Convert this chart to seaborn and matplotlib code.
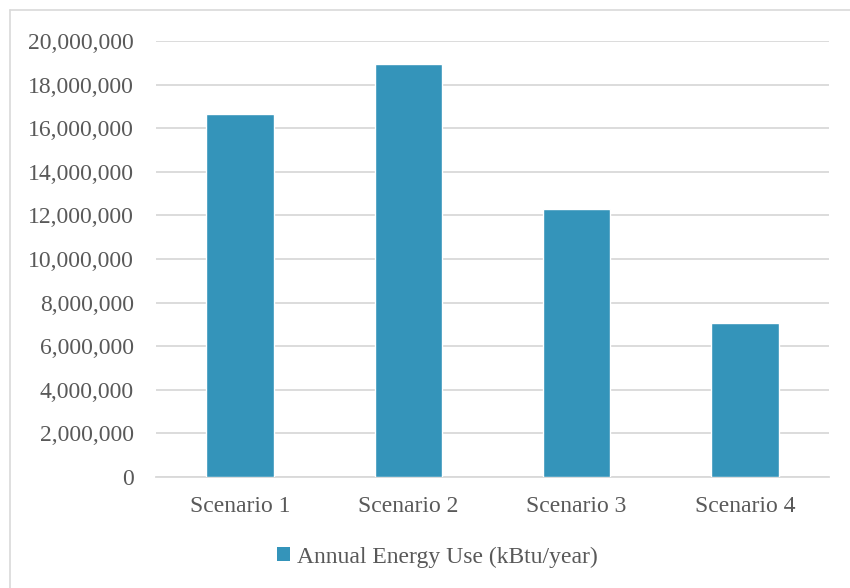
import matplotlib
matplotlib.use("Agg")
import matplotlib.pyplot as plt
import seaborn as sns
import pandas as pd
from matplotlib.ticker import FuncFormatter
from matplotlib.lines import Line2D
from matplotlib.patches import Patch

scenarios = ["Scenario 1", "Scenario 2", "Scenario 3", "Scenario 4"]
energy_use = [16650000, 18950000, 12290000, 7060000]
series_name = "Annual Energy Use (kBtu/year)"

df = pd.DataFrame({"Scenario": scenarios, "Energy": energy_use})

sns.set_theme(style="white")
plt.rcParams["font.family"] = ["Liberation Serif", "DejaVu Serif"]

bar_color = "#3494BA"
text_color = "#595959"
grid_color = "#D9D9D9"

fig = plt.figure(figsize=(8.5, 5.88), dpi=100)
ax = fig.add_axes([156 / 850, 1 - 477 / 588, (829 - 156) / 850, (477 - 41) / 588])

sns.barplot(data=df, x="Scenario", y="Energy", color=bar_color, width=0.4,
            saturation=1, ax=ax, zorder=3)

ax.set_xlim(-0.5, len(scenarios) - 0.5)
ax.set_ylim(0, 20000000)
ax.set_yticks(range(0, 20000001, 2000000))
ax.yaxis.set_major_formatter(FuncFormatter(lambda v, p: f"{int(v):,}"))
ax.grid(axis="y", color=grid_color, linewidth=1.3, zorder=0)
ax.set_axisbelow(True)
for s in ["top", "right", "left"]:
    ax.spines[s].set_visible(False)
ax.spines["bottom"].set_color(grid_color)
ax.spines["bottom"].set_linewidth(1.3)
ax.set_xlabel("")
ax.set_ylabel("")
ax.tick_params(axis="both", length=0, colors=text_color, labelsize=17)
ax.tick_params(axis="y", pad=16)
ax.tick_params(axis="x", pad=14)

handles = [Patch(facecolor=bar_color, edgecolor="none", label=series_name)]
fig.legend(handles=handles, loc="center", bbox_to_anchor=(437 / 850, 1 - 557 / 588),
           frameon=False, fontsize=17, labelcolor=text_color,
           handlelength=0.55, handleheight=0.55, handletextpad=0.3)

# chart frame
frame_x = 10 / 850
frame_y = 1 - 10 / 588
fig.add_artist(Line2D([frame_x, frame_x], [0, frame_y], color=grid_color, linewidth=1.2,
                      transform=fig.transFigure))
fig.add_artist(Line2D([frame_x, 1], [frame_y, frame_y], color=grid_color, linewidth=1.2,
                      transform=fig.transFigure))

fig.savefig("out.png", dpi=100, facecolor="white")
